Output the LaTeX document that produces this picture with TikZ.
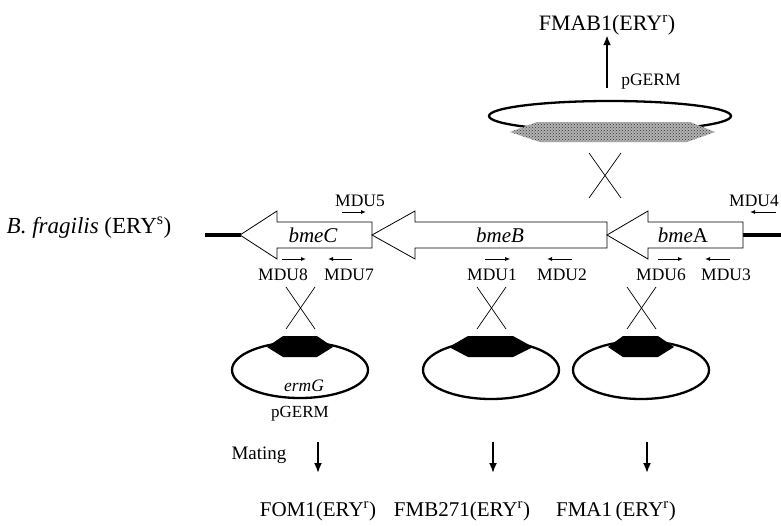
\documentclass[tikz,border=0pt]{standalone}
\usepackage{fontspec}
\setmainfont{Liberation Serif}
\usetikzlibrary{arrows.meta,patterns}
\begin{document}
\begin{tikzpicture}[x=1pt,y=-1pt,
  big/.style={font=\fontsize{22}{24}\selectfont, inner sep=0pt},
  prod/.style={font=\fontsize{21}{23}\selectfont, inner sep=0pt},
  med/.style={font=\fontsize{17.5}{19}\selectfont, inner sep=0pt},
  gene/.style={font=\fontsize{21}{23}\selectfont\itshape, inner sep=0pt},
  genebox/.style={draw=black, line width=0.8pt, fill=white},
  chrom/.style={line width=4pt},
  plasmid/.style={draw=black, line width=2.3pt},
  cross/.style={line width=0.7pt},
  primer/.style={line width=1pt, -{Latex[length=5pt,width=4pt]}},
  bigarrow/.style={line width=2.3pt, -{Latex[length=10pt,width=8pt]}},
  hexfill/.style={fill=black}
]
\useasboundingbox (0,0) rectangle (781,525);

% chromosome lines
\coordinate (cl1) at (205,235);
\coordinate (cl2) at (241,235);
\coordinate (cr1) at (742,235);
\coordinate (cr2) at (781,235);
\draw[chrom] (cl1) -- (cl2);
\draw[chrom] (cr1) -- (cr2);

% gene arrows
\draw[genebox] (240,235) -- (277,211) -- (277,222) -- (372,222) -- (372,248) -- (277,248) -- (277,259) -- cycle;
\draw[genebox] (372,235) -- (415,211) -- (415,222) -- (607,222) -- (607,248) -- (415,248) -- (415,259) -- cycle;
\draw[genebox] (607,235) -- (648,211) -- (648,222) -- (743,222) -- (743,248) -- (648,248) -- (648,259) -- cycle;
\node[gene] (bmeC) at (313,235) {bmeC};
\node[gene] (bmeB) at (500,235) {bmeB};
\node[font=\fontsize{21}{23}\selectfont, inner sep=0pt] (bmeA) at (683,235) {\textit{bme}A};

\node[font=\fontsize{23}{25}\selectfont, inner sep=0pt] (bfrag) at (89,228) {\textit{B. fragilis} (ERY\textsuperscript{s})};

% primers
\node[med] (mdu5) at (360,201) {MDU5};
\coordinate (p5a) at (342,212); \coordinate (p5b) at (366,212);
\draw[primer] (p5a) -- (p5b);
\node[med] (mdu4) at (754,201) {MDU4};
\coordinate (p4a) at (776,212); \coordinate (p4b) at (750,212);
\draw[primer] (p4a) -- (p4b);

\node[med] (mdu8) at (283,275) {MDU8};
\coordinate (p8a) at (282,259); \coordinate (p8b) at (306,259);
\draw[primer] (p8a) -- (p8b);
\node[med] (mdu7) at (349,275) {MDU7};
\coordinate (p7a) at (352,259); \coordinate (p7b) at (328,259);
\draw[primer] (p7a) -- (p7b);
\node[med] (mdu1) at (492,275) {MDU1};
\coordinate (p1a) at (485,259); \coordinate (p1b) at (510,259);
\draw[primer, line width=0.6pt] (p1a) -- (p1b);
\node[med] (mdu2) at (562,275) {MDU2};
\coordinate (p2a) at (572,259); \coordinate (p2b) at (547,259);
\draw[primer] (p2a) -- (p2b);
\node[med] (mdu6) at (661,275) {MDU6};
\coordinate (p6a) at (658,259); \coordinate (p6b) at (683,259);
\draw[primer] (p6a) -- (p6b);
\node[med] (mdu3) at (726,275) {MDU3};
\coordinate (p3a) at (730,259); \coordinate (p3b) at (705,259);
\draw[primer] (p3a) -- (p3b);

% top plasmid
\draw[plasmid] (610,116) ellipse [x radius=121, y radius=15];
\path[fill=gray!60] (510,132) -- (537,122) -- (690,122) -- (715,132) -- (687,142) -- (540,142) -- cycle;
\path[pattern=crosshatch dots, pattern color=black!80] (510,132) -- (537,122) -- (690,122) -- (715,132) -- (687,142) -- (540,142) -- cycle;
\node[med] (pgermtop) at (651,82) {pGERM};
\coordinate (ta) at (607,88); 
\node[big] (fmab1) at (607,25) {FMAB1(ERY\textsuperscript{r})};
\draw[bigarrow] (ta) -- (fmab1.south);

% top cross
\draw[cross] (589,153) -- (621,198);
\draw[cross] (621,153) -- (589,198);

% lower crosses
\draw[cross] (286,287) -- (315,329);
\draw[cross] (315,287) -- (286,329);
\draw[cross] (477,287) -- (506,329);
\draw[cross] (506,287) -- (477,329);
\draw[cross] (627,287) -- (656,329);
\draw[cross] (656,287) -- (627,329);

% lower plasmids
\draw[plasmid] (300,370) ellipse [x radius=68, y radius=28];
\fill[hexfill] (267,347) -- (283,336) -- (317,336) -- (333,347) -- (317,357) -- (283,357) -- cycle;
\draw[plasmid] (491,370) ellipse [x radius=68, y radius=29];
\fill[hexfill] (449,347) -- (468,336) -- (513,336) -- (533,347) -- (513,357) -- (468,357) -- cycle;
\draw[plasmid] (641,370) ellipse [x radius=68, y radius=29];
\fill[hexfill] (608,347) -- (623,336) -- (658,336) -- (674,347) -- (658,357) -- (623,357) -- cycle;

\node[font=\fontsize{17.5}{19}\selectfont\itshape, inner sep=0pt] (ermg) at (304,386) {ermG};
\node[font=\fontsize{17}{19}\selectfont, inner sep=0pt] (pgerm1) at (300,414) {pGERM};

% bottom arrows and products
\node[font=\fontsize{19}{21}\selectfont, inner sep=0pt] (mating) at (259,455) {Mating};
\coordinate (a1) at (318,442); \coordinate (a2) at (493,442); \coordinate (a3) at (647,442);
\coordinate (b1) at (318,473); \coordinate (b2) at (493,473); \coordinate (b3) at (647,473);
\draw[bigarrow, line width=1.8pt] (a1) -- (b1);
\draw[bigarrow, line width=1.8pt] (a2) -- (b2);
\draw[bigarrow, line width=1.8pt] (a3) -- (b3);
\node[prod] (fom1) at (318,511) {FOM1(ERY\textsuperscript{r})};
\node[prod] (fmb271) at (462,511) {FMB271(ERY\textsuperscript{r})};
\node[prod] (fma1) at (616,511) {FMA1\,(ERY\textsuperscript{r})};
\end{tikzpicture}
\end{document}
